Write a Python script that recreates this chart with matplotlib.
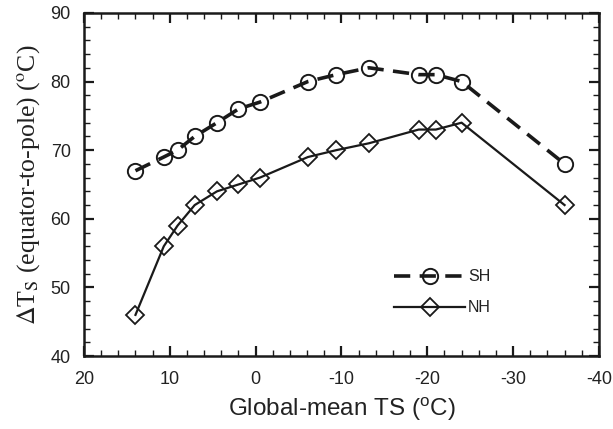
import matplotlib
matplotlib.use("Agg")
import matplotlib.pyplot as plt
from matplotlib.ticker import MultipleLocator

# Data
ts_global = [14, 10.7, 9.1, 7.1, 4.5, 2.0, -0.5, -6.1, -9.4, -13.2, -19.0, -21.0, -24.0, -36.0]
sh_dT = [67, 69, 70, 72, 74, 76, 77, 80, 81, 82, 81, 81, 80, 68]
nh_dT = [46, 56, 59, 62, 64, 65, 66, 69, 70, 71, 73, 73, 74, 62]
series_labels = ["SH", "NH"]

plt.rcParams['mathtext.fontset'] = 'custom'
plt.rcParams['mathtext.rm'] = 'Liberation Sans'
plt.rcParams['mathtext.it'] = 'Liberation Sans:italic'
plt.rcParams['axes.unicode_minus'] = False

fig = plt.figure(figsize=(6.13, 4.29), dpi=100)
ax = fig.add_axes([0.137, 0.170, 0.840, 0.800])

ax.plot(ts_global, sh_dT, color='#1a1a1a', lw=2.6, ls=(0, (4.5, 2.6)),
        marker='o', ms=11, mfc='none', mec='#1a1a1a', mew=1.4, label=series_labels[0])
ax.plot(ts_global, nh_dT, color='#1a1a1a', lw=1.6, ls='-',
        marker='D', ms=9, mfc='none', mec='#1a1a1a', mew=1.3, label=series_labels[1])

ax.set_xlim(20, -40)
ax.set_ylim(40, 90)
ax.xaxis.set_major_locator(MultipleLocator(10))
ax.xaxis.set_minor_locator(MultipleLocator(2))
ax.yaxis.set_major_locator(MultipleLocator(10))
ax.yaxis.set_minor_locator(MultipleLocator(2))
ax.tick_params(which='both', direction='in', top=True, right=True,
               labelsize=13, colors='#1a1a1a', labelcolor='#222222')
ax.tick_params(which='major', length=7, width=1.6)
ax.tick_params(which='minor', length=4, width=1.0)
ax.tick_params(axis='x', which='major', pad=10.5)
ax.tick_params(axis='y', which='major', pad=9.5)
for lab in ax.get_xticklabels() + ax.get_yticklabels():
    lab.set_family('Liberation Sans')
for sp in ax.spines.values():
    sp.set_linewidth(1.8)
    sp.set_color('#1a1a1a')

ax.set_xlabel(r'Global-mean TS ($^{\rm o}$C)', fontsize=17.5, family='Liberation Sans',
              color='#222222', labelpad=6)
ylab = ax.set_ylabel(r'$\Delta$T$_{\rm S}$ (equator-to-pole) ($^{\rm o}$C)', fontsize=18.5,
                     family='Liberation Serif', color='#222222', labelpad=6)
ylab.set_math_fontfamily('stix')

leg = ax.legend(loc='lower left', bbox_to_anchor=(0.575, 0.077), frameon=False,
                handlelength=4.4, handletextpad=0.2, labelspacing=1.0,
                prop={'family': 'Liberation Sans', 'size': 11.5})
for t in leg.get_texts():
    t.set_color('#222222')

fig.savefig('out.png', dpi=100)
